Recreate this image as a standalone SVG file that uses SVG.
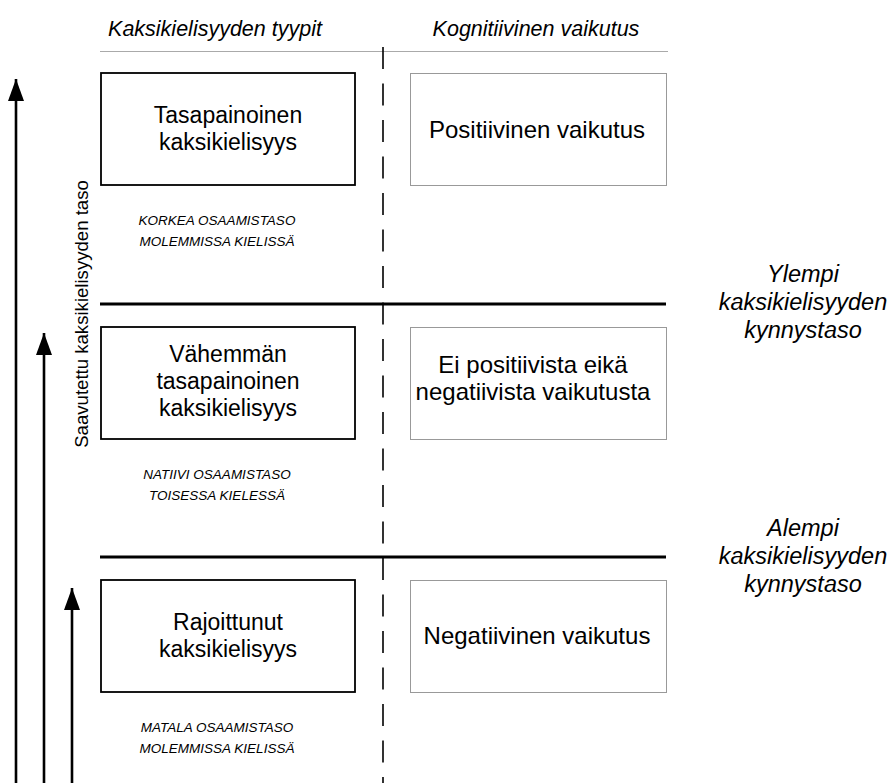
<svg xmlns="http://www.w3.org/2000/svg" width="893" height="783" viewBox="0 0 893 783">
<style>
text{font-family:"Liberation Sans",Arial,sans-serif;fill:#000}
.hd{font-size:21.5px;font-style:italic;text-anchor:middle}
.bl{font-size:23px;text-anchor:middle}
.br{font-size:24px;text-anchor:middle}
.sm{font-size:13.5px;font-style:italic;text-anchor:middle}
.th{font-size:23.5px;font-style:italic;text-anchor:middle}
.ax{font-size:18.6px;text-anchor:middle}
.lb{fill:#fff;stroke:#000;stroke-width:1.8}
.rb{fill:#fff;stroke:#999;stroke-width:1}
.ln{stroke:#000;stroke-width:2.8}
.ar{stroke:#000;stroke-width:2.6}
</style>
<defs>
<marker id="ah" viewBox="0 0 22 16" refX="22" refY="8" markerWidth="22" markerHeight="16" markerUnits="userSpaceOnUse" orient="auto">
<path d="M0,0 L22,8 L0,16 Z" fill="#000"/>
</marker>
</defs>
<rect width="893" height="783" fill="#fff"/>
<g id="header">
<text class="hd" x="215" y="36">Kaksikielisyyden tyypit</text>
<text class="hd" x="536" y="36">Kognitiivinen vaikutus</text>
<line x1="100" y1="51.5" x2="668" y2="51.5" stroke="#aaa" stroke-width="1.2"/>
</g>
<g id="connectors">
<line class="ar" x1="16" y1="783" x2="16" y2="79" marker-end="url(#ah)"/>
<line class="ar" x1="44" y1="783" x2="44" y2="333" marker-end="url(#ah)"/>
<line class="ar" x1="72" y1="783" x2="72" y2="588" marker-end="url(#ah)"/>
<line x1="383" y1="47" x2="383" y2="783" stroke="#000" stroke-width="1.6" stroke-dasharray="22 14.5"/>
<line class="ln" x1="100" y1="304" x2="666" y2="304"/>
<line class="ln" x1="100" y1="557" x2="666" y2="557"/>
</g>
<g id="axis-label">
<text class="ax" transform="translate(88,314) rotate(-90)">Saavutettu kaksikielisyyden taso</text>
</g>
<g id="box1">
<rect class="lb" x="101" y="73" width="254" height="112"/>
<text class="bl" x="228" y="123">Tasapainoinen</text>
<text class="bl" x="228" y="150">kaksikielisyys</text>
</g>
<g id="effect1">
<rect class="rb" x="410.5" y="73.5" width="256" height="112"/>
<text class="br" x="537" y="138">Positiivinen vaikutus</text>
</g>
<g id="note1">
<text class="sm" x="217" y="225">KORKEA OSAAMISTASO</text>
<text class="sm" x="217" y="246">MOLEMMISSA KIELISSÄ</text>
</g>
<g id="box2">
<rect class="lb" x="101" y="327" width="254" height="112"/>
<text class="bl" x="228" y="362">Vähemmän</text>
<text class="bl" x="228" y="389">tasapainoinen</text>
<text class="bl" x="228" y="416">kaksikielisyys</text>
</g>
<g id="effect2">
<rect class="rb" x="410.5" y="327.5" width="256" height="112"/>
<text class="br" x="533" y="373">Ei positiivista eikä</text>
<text class="br" x="533" y="400">negatiivista vaikutusta</text>
</g>
<g id="note2">
<text class="sm" x="217" y="479">NATIIVI OSAAMISTASO</text>
<text class="sm" x="217" y="500">TOISESSA KIELESSÄ</text>
</g>
<g id="box3">
<rect class="lb" x="101" y="580" width="254" height="112"/>
<text class="bl" x="228" y="630">Rajoittunut</text>
<text class="bl" x="228" y="657">kaksikielisyys</text>
</g>
<g id="effect3">
<rect class="rb" x="410.5" y="580.5" width="256" height="112"/>
<text class="br" x="537" y="644">Negatiivinen vaikutus</text>
</g>
<g id="note3">
<text class="sm" x="217" y="732">MATALA OSAAMISTASO</text>
<text class="sm" x="217" y="753">MOLEMMISSA KIELISSÄ</text>
</g>
<g id="upper-threshold">
<text class="th" x="803" y="282">Ylempi</text>
<text class="th" x="803" y="310">kaksikielisyyden</text>
<text class="th" x="803" y="338">kynnystaso</text>
</g>
<g id="lower-threshold">
<text class="th" x="803" y="536">Alempi</text>
<text class="th" x="803" y="564">kaksikielisyyden</text>
<text class="th" x="803" y="592">kynnystaso</text>
</g>
</svg>
